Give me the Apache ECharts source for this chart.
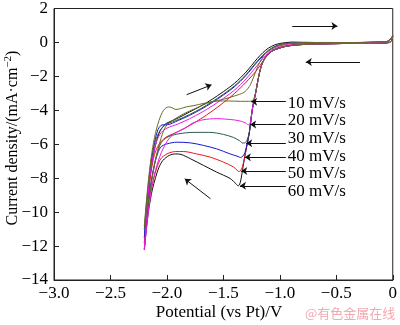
<!DOCTYPE html>
<html>
<head>
<meta charset="utf-8">
<script src="https://cdn.jsdelivr.net/npm/echarts@6/dist/echarts.min.js"></script>
<style>
  html, body { margin: 0; padding: 0; background: #fff; }
  #chart { width: 400px; height: 325px; }
</style>
</head>
<body>
<div id="chart"></div>
<script>
// Cyclic voltammograms: potential (V vs Pt) and current density (mA/cm2)

const scanRates = ['10 mV/s', '20 mV/s', '30 mV/s', '40 mV/s', '50 mV/s', '60 mV/s'];
const xTickLabels = ['\u22123.0', '\u22122.5', '\u22122.0', '\u22121.5', '\u22121.0', '\u22120.5', '0'];
const yTickLabels = ['\u221214', '\u221212', '\u221210', '\u22128', '\u22126', '\u22124', '\u22122', '0', '2'];

// cathodic sweep start, shared by all scan rates
const fwdStart = [[0, 0.38], [-0.01, 0.12], [-0.03, 0.0], [-0.1, -0.04], [-0.3, -0.05], [-0.5, -0.07],
  [-0.7, -0.1], [-0.82, -0.13], [-0.9, -0.18], [-0.96, -0.25], [-1.01, -0.35], [-1.06, -0.47],
  [-1.1, -0.66], [-1.135, -0.95], [-1.165, -1.4], [-1.19, -2.1], [-1.215, -3.0]];

// cathodic sweep, per scan rate
const fwd10 = [[-1.24, -3.42], [-1.28, -3.47], [-1.35, -3.47], [-1.45, -3.45], [-1.55, -3.45], [-1.62, -3.52],
  [-1.75, -3.9], [-1.85, -4.2], [-1.95, -4.6], [-2.01, -4.95], [-2.05, -5.6], [-2.09, -6.6], [-2.12, -7.6],
  [-2.15, -8.8], [-2.18, -10.0], [-2.2, -10.8]];
const fwd20 = [[-1.24, -3.8], [-1.255, -4.5], [-1.265, -4.8], [-1.28, -4.86], [-1.3, -4.76], [-1.34, -4.65],
  [-1.4, -4.57], [-1.48, -4.52], [-1.56, -4.49], [-1.68, -4.56], [-1.77, -4.75], [-1.84, -5.05], [-1.9, -5.25],
  [-1.95, -5.45], [-2.0, -5.85], [-2.05, -6.5], [-2.1, -7.5], [-2.14, -8.8], [-2.17, -10.3], [-2.2, -12.2]];
const fwd30 = [[-1.24, -3.8], [-1.255, -4.5], [-1.27, -5.3], [-1.29, -5.75], [-1.31, -5.92], [-1.33, -5.93],
  [-1.355, -5.8], [-1.41, -5.6], [-1.5, -5.42], [-1.62, -5.3], [-1.76, -5.3], [-1.91, -5.4], [-2.0, -5.6],
  [-2.05, -5.9], [-2.09, -6.6], [-2.12, -7.5], [-2.15, -8.7], [-2.18, -10.0], [-2.2, -11.0]];
const fwd40 = [[-1.24, -3.8], [-1.255, -4.5], [-1.27, -5.3], [-1.29, -6.0], [-1.31, -6.5], [-1.33, -6.72],
  [-1.35, -6.78], [-1.37, -6.72], [-1.44, -6.57], [-1.56, -6.27], [-1.675, -6.07], [-1.79, -5.92],
  [-1.91, -5.88], [-2.0, -5.98], [-2.055, -6.17], [-2.09, -6.7], [-2.12, -7.5], [-2.15, -8.7],
  [-2.18, -10.2], [-2.2, -11.5]];
const fwd50 = [[-1.24, -3.8], [-1.255, -4.5], [-1.27, -5.3], [-1.29, -6.0], [-1.31, -6.7], [-1.33, -7.3],
  [-1.35, -7.58], [-1.365, -7.6], [-1.38, -7.52], [-1.41, -7.34], [-1.5, -7.05], [-1.617, -6.76],
  [-1.737, -6.57], [-1.851, -6.43], [-1.924, -6.43], [-2.0, -6.57], [-2.055, -6.86], [-2.09, -7.4],
  [-2.12, -8.1], [-2.15, -9.0], [-2.18, -10.4], [-2.2, -11.8]];
const fwd60 = [[-1.24, -3.8], [-1.255, -4.5], [-1.27, -5.3], [-1.29, -6.0], [-1.31, -6.7], [-1.33, -7.5],
  [-1.345, -8.1], [-1.358, -8.4], [-1.37, -8.45], [-1.385, -8.35], [-1.44, -8.02], [-1.56, -7.64],
  [-1.675, -7.25], [-1.79, -6.86], [-1.875, -6.6], [-1.925, -6.57], [-1.98, -6.66], [-2.035, -6.95],
  [-2.07, -7.35], [-2.1, -7.95], [-2.13, -8.7], [-2.16, -9.8], [-2.18, -10.9], [-2.2, -12.2]];

// anodic (return) sweep, per scan rate
const ret10 = [[-2.185, -9.6], [-2.165, -8.2], [-2.14, -6.8], [-2.11, -5.6], [-2.07, -4.6], [-2.03, -4.0],
  [-1.985, -3.8], [-1.955, -3.85], [-1.92, -3.95], [-1.88, -3.9], [-1.83, -3.8], [-1.76, -3.72],
  [-1.68, -3.6], [-1.6, -3.5], [-1.5, -3.35], [-1.4, -3.15], [-1.32, -2.95], [-1.27, -2.6], [-1.23, -2.0],
  [-1.195, -1.4], [-1.16, -0.95], [-1.12, -0.6], [-1.07, -0.35], [-1.0, -0.15], [-0.92, -0.06],
  [-0.8, -0.02], [-0.6, 0.0], [-0.4, -0.01], [-0.2, 0.02], [-0.05, 0.06], [0, 0.38]];
const ret20 = [[-2.185, -10.6], [-2.17, -9.2], [-2.15, -7.8], [-2.12, -6.6], [-2.09, -5.8], [-2.05, -5.3],
  [-2.0, -5.05], [-1.9, -4.8], [-1.8, -4.5], [-1.7, -4.15], [-1.6, -3.75], [-1.5, -3.3], [-1.4, -2.8],
  [-1.3, -2.15], [-1.2, -1.35], [-1.15, -0.95], [-1.1, -0.6], [-1.05, -0.35], [-1.0, -0.2], [-0.9, -0.08],
  [-0.8, -0.04], [-0.6, -0.02], [-0.4, -0.03], [-0.2, 0.0], [-0.05, 0.05], [0, 0.38]];
const ret30 = [[-2.185, -9.8], [-2.165, -8.4], [-2.14, -7.0], [-2.11, -6.0], [-2.07, -5.3], [-2.03, -4.95],
  [-2.0, -4.8], [-1.9, -4.55], [-1.8, -4.25], [-1.7, -3.9], [-1.6, -3.5], [-1.5, -3.05], [-1.4, -2.55],
  [-1.3, -1.9], [-1.2, -1.1], [-1.15, -0.75], [-1.1, -0.45], [-1.05, -0.25], [-1.0, -0.12], [-0.9, -0.03],
  [-0.8, -0.02], [-0.6, -0.01], [-0.4, -0.02], [-0.2, 0.01], [-0.05, 0.05], [0, 0.38]];
const ret40 = [[-2.185, -10.2], [-2.165, -8.6], [-2.14, -7.1], [-2.11, -5.9], [-2.08, -5.15], [-2.055, -4.9],
  [-2.03, -4.85], [-2.0, -4.85], [-1.9, -4.6], [-1.8, -4.3], [-1.7, -3.95], [-1.6, -3.55], [-1.5, -3.1],
  [-1.4, -2.6], [-1.3, -1.95], [-1.2, -1.15], [-1.15, -0.8], [-1.1, -0.5], [-1.05, -0.28], [-1.0, -0.15],
  [-0.9, -0.04], [-0.8, -0.03], [-0.6, -0.02], [-0.4, -0.03], [-0.2, 0.0], [-0.05, 0.05], [0, 0.38]];
const ret50 = [[-2.185, -10.5], [-2.165, -9.0], [-2.14, -7.6], [-2.11, -6.6], [-2.07, -6.0], [-2.03, -5.7],
  [-2.0, -5.55], [-1.9, -5.25], [-1.8, -4.9], [-1.7, -4.5], [-1.6, -4.05], [-1.5, -3.55], [-1.4, -3.0],
  [-1.3, -2.35], [-1.2, -1.6], [-1.15, -1.1], [-1.1, -0.7], [-1.05, -0.42], [-1.0, -0.27], [-0.9, -0.14],
  [-0.8, -0.08], [-0.6, -0.04], [-0.4, -0.04], [-0.2, -0.01], [-0.05, 0.04], [0, 0.38]];
const ret60 = [[-2.185, -10.8], [-2.17, -9.5], [-2.15, -8.0], [-2.125, -6.8], [-2.095, -5.9], [-2.06, -5.2],
  [-2.02, -4.85], [-2.0, -4.75], [-1.9, -4.45], [-1.8, -4.1], [-1.7, -3.75], [-1.6, -3.35], [-1.5, -2.9],
  [-1.4, -2.4], [-1.3, -1.75], [-1.2, -0.95], [-1.15, -0.6], [-1.1, -0.33], [-1.05, -0.16], [-1.0, -0.06],
  [-0.9, 0.02], [-0.8, 0.01], [-0.6, -0.01], [-0.4, -0.02], [-0.2, 0.01], [-0.05, 0.05], [0, 0.38]];

const curves = [
  { name: scanRates[0], fwd: fwd10, ret: ret10, color: '#6b6b28' },
  { name: scanRates[1], fwd: fwd20, ret: ret20, color: '#e61ee6' },
  { name: scanRates[2], fwd: fwd30, ret: ret30, color: '#2c5a4c' },
  { name: scanRates[3], fwd: fwd40, ret: ret40, color: '#1818d0' },
  { name: scanRates[4], fwd: fwd50, ret: ret50, color: '#e8141c' },
  { name: scanRates[5], fwd: fwd60, ret: ret60, color: '#111111' }
];

// annotation layout: label anchors and pointer arrows (data coordinates)
const labelAt = [[-0.93, -3.61], [-0.93, -4.63], [-0.93, -5.65], [-0.93, -6.70], [-0.93, -7.75], [-0.93, -8.80]];
const pointerFrom = [[-0.947, -3.49], [-0.947, -4.83], [-0.947, -5.94], [-0.947, -6.76], [-0.947, -7.58], [-0.947, -8.45]];
const pointerTo = [[-1.254, -3.49], [-1.263, -4.83], [-1.298, -5.94], [-1.31, -6.76], [-1.342, -7.58], [-1.353, -8.45]];
const sweepArrows = [
  [[-0.89, 0.97], [-0.49, 0.97]],
  [[-0.29, -1.15], [-0.77, -1.15]],
  [[-1.825, -3.08], [-1.605, -2.5]],
  [[-1.614, -9.21], [-1.842, -8.04]]
];

const serif = '"Liberation Serif", "Times New Roman", serif';
const chart = echarts.init(document.getElementById('chart'), null, { renderer: 'canvas' });

const series = curves.slice().reverse().map(c => ({
  name: c.name,
  type: 'line',
  data: fwdStart.concat(c.fwd, c.ret),
  showSymbol: false,
  smooth: 0.3,
  lineStyle: { color: c.color, width: 1 },
  z: 3
}));

const arrowLines = sweepArrows.map(a => [{ coord: a[0] }, { coord: a[1] }])
  .concat(pointerFrom.map((p, i) => [{ coord: p }, { coord: pointerTo[i] }]));

series.push({
  name: 'annotations',
  type: 'line',
  data: [],
  z: 5,
  markLine: {
    silent: true,
    animation: false,
    symbol: ['none', 'arrow'],
    symbolSize: 6,
    itemStyle: { color: '#111' },
    lineStyle: { color: '#111', width: 1, type: 'solid' },
    label: { show: false },
    data: arrowLines
  },
  markPoint: {
    silent: true,
    animation: false,
    symbol: 'circle',
    symbolSize: 0,
    label: {
      show: true, position: 'right', distance: 0,
      fontFamily: serif, fontSize: 17, color: '#000',
      formatter: p => p.name
    },
    data: scanRates.map((s, i) => ({ name: s, coord: labelAt[i] }))
  }
});

chart.setOption({
  animation: false,
  backgroundColor: '#fff',
  grid: { left: 54, right: 4, top: 5, bottom: 45, show: true, borderColor: '#222', borderWidth: 1 },
  xAxis: {
    type: 'value', min: -3, max: 0, interval: 0.5,
    axisLine: { onZero: false, lineStyle: { color: '#222', width: 1 } },
    axisTick: { inside: true, length: 5, lineStyle: { color: '#222' } },
    splitLine: { show: false },
    axisLabel: {
      fontFamily: serif, fontSize: 17, color: '#000', margin: 5,
      formatter: v => xTickLabels[Math.round((v + 3) / 0.5)]
    }
  },
  yAxis: {
    type: 'value', min: -14, max: 2, interval: 2,
    axisLine: { onZero: false, lineStyle: { color: '#222', width: 1 } },
    axisTick: { inside: true, length: 5, lineStyle: { color: '#222' } },
    splitLine: { show: false },
    axisLabel: {
      fontFamily: serif, fontSize: 17, color: '#000', margin: 6,
      formatter: v => yTickLabels[Math.round((v + 14) / 2)]
    }
  },
  graphic: [
    {
      type: 'text', x: 219, y: 313, z: 10,
      style: { text: 'Potential (vs Pt)/V', font: '17px ' + serif, fill: '#000', textAlign: 'center', textVerticalAlign: 'middle' }
    },
    {
      type: 'text', x: 13, y: 138, rotation: Math.PI / 2, z: 10,
      style: {
        text: '{a|Current density/(mA\u00b7cm}{s|\u22122}{a|)}',
        textAlign: 'center', textVerticalAlign: 'middle',
        rich: {
          a: { fontFamily: serif, fontSize: 16, fill: '#000', lineHeight: 20 },
          s: { fontFamily: serif, fontSize: 11, fill: '#000', lineHeight: 20, verticalAlign: 'top', padding: [0, 0, 8, 0] }
        }
      }
    },
    {
      type: 'text', x: 305, y: 313, z: 10,
      style: { text: '@有色金属在线', font: '13px "Noto Sans CJK SC", sans-serif', fill: '#f0a9b2', textAlign: 'left', textVerticalAlign: 'middle' }
    }
  ],
  series: series
});
</script>
</body>
</html>
